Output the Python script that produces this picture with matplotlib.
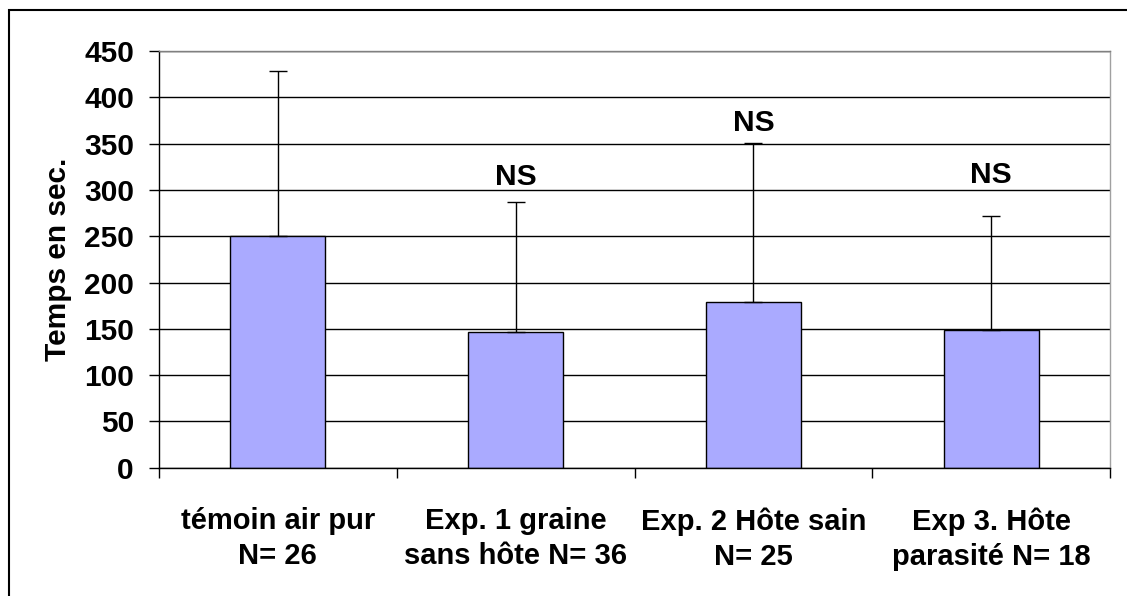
import matplotlib.pyplot as plt
import numpy as np
from matplotlib.patches import Rectangle

plt.rcParams['font.family'] = ['Liberation Sans', 'DejaVu Sans']

# Data
categories = ['témoin air pur\nN= 26',
              'Exp. 1 graine\nsans hôte N= 36',
              'Exp. 2 Hôte sain\nN= 25',
              'Exp 3. Hôte\nparasité N= 18']
means = [250, 147, 179, 149]
errors_up = [178, 140, 172, 123]
ns_labels = ['', 'NS', 'NS', 'NS']
ns_heights = [0, 314, 372, 316]
y_ticks = [0, 50, 100, 150, 200, 250, 300, 350, 400, 450]


def main():
    W, H = 1127, 596
    fig = plt.figure(figsize=(W / 100, H / 100), dpi=100)
    fig.patch.set_facecolor('white')

    # outer chart frame (right and bottom fall outside the image)
    fig.patches.append(Rectangle((8.5 / W, -0.05), 1.2, 1 - 9.5 / H + 0.05,
                                 transform=fig.transFigure, fill=False,
                                 edgecolor='black', linewidth=1.5))

    ax = fig.add_axes([159 / W, 1 - 467.7 / H, (1110 - 159) / W,
                       (467.7 - 51) / H])

    x = np.arange(len(categories))
    ax.bar(x, means, width=0.40, color='#AAAAFF', edgecolor='black',
           linewidth=1, zorder=2)
    ax.errorbar(x, means, yerr=[np.zeros(len(means)), errors_up], fmt='none',
                ecolor='black', elinewidth=1, capsize=6.3, capthick=1,
                zorder=3)

    for xi, lab, h in zip(x, ns_labels, ns_heights):
        if lab:
            ax.text(xi, h, lab, ha='center', va='center', fontsize=21.5,
                    fontweight='bold', zorder=4)

    ax.set_xlim(-0.5, len(categories) - 0.5)
    ax.set_ylim(0, 450)
    ax.set_yticks(y_ticks)
    ax.set_yticklabels([str(t) for t in y_ticks], fontsize=21.5,
                       fontweight='bold')
    ax.yaxis.grid(True, color='black', linewidth=1, zorder=0)
    ax.set_axisbelow(True)

    ax.set_xticks(x)
    ax.set_xticklabels(categories, fontsize=21, fontweight='bold',
                       linespacing=1.32)
    ax.set_xticks(np.arange(len(categories) + 1) - 0.5, minor=True)
    ax.tick_params(axis='x', which='major', length=0, pad=28.5)
    ax.tick_params(axis='x', which='minor', length=7.5, width=1,
                   direction='out')
    ax.tick_params(axis='y', length=7, width=1, direction='out', pad=11)

    ax.set_ylabel('Temps en sec.', fontsize=21.5, fontweight='bold',
                  labelpad=9)

    ax.spines['left'].set_color('black')
    ax.spines['bottom'].set_color('black')
    ax.spines['top'].set_color('#808080')
    ax.spines['right'].set_color('#a0a0a0')
    for s in ax.spines.values():
        s.set_linewidth(1)

    fig.savefig('out.png', dpi=100)


if __name__ == "__main__":
    main()
